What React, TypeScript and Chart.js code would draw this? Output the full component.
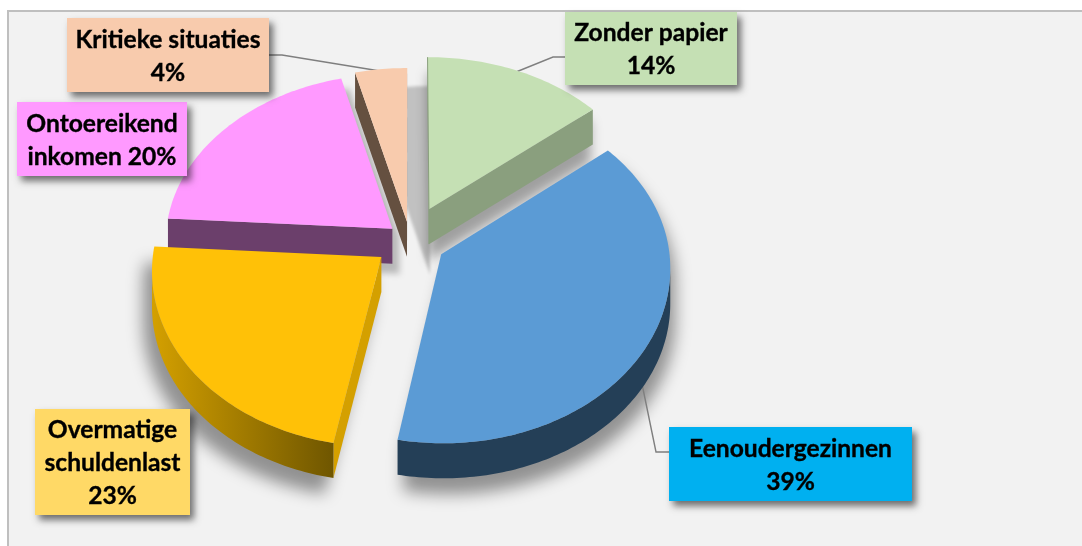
import React, { useEffect, useRef } from "react";
import { Chart, registerables } from "chart.js";

Chart.register(...registerables);

const categories = ["Zonder papier", "Eenoudergezinnen", "Overmatige schuldenlast", "Ontoereikend inkomen", "Kritieke situaties"];
const values = [14, 39, 23, 20, 4];
const topColors = ["#C5E0B4", "#5B9BD5", "#FFC107", "#FF99FF", "#F8CBAD"];
const rimColors = ["#8A9F7E", "#243F57", "#D4A000", "#6B3F6B", "#655040"];
const rimEndColors = ["#8A9F7E", "#243F57", "#6F5600", "#6B3F6B", "#655040"];
const labelColors = ["#C5E0B4", "#00B0F0", "#FFD966", "#FF99FF", "#F8CBAD"];
const labelLines = [
  ["Zonder papier", "14%"],
  ["Eenoudergezinnen", "39%"],
  ["Overmatige", "schuldenlast", "23%"],
  ["Ontoereikend", "inkomen 20%"],
  ["Kritieke situaties", "4%"],
];
const explode = [45, 36, 36, 23, 24];
const paintOrder = [4, 3, 0, 2, 1];

const boxes = [
  { x: 565, y: 12, w: 172, h: 73 },
  { x: 669, y: 427, w: 243, h: 74 },
  { x: 35, y: 409, w: 155, h: 106 },
  { x: 17, y: 102, w: 170, h: 74 },
  { x: 67, y: 18, w: 202, h: 74 },
];
const leaders = [
  [[565, 57], [553, 57], [516, 72]],
  [[669, 452], [656, 452], [642, 384]],
  [],
  [],
  [[269, 55], [282, 55], [380, 71]],
];
const shadows = [
  { dx: 0, dy: 16, blur: 6, alpha: 0.34 },
  { dx: 5, dy: 16, blur: 8, alpha: 0.4 },
  { dx: -9, dy: 16, blur: 8, alpha: 0.4 },
  { dx: 8, dy: 10, blur: 3, alpha: 0.24 },
  { dx: 23, dy: 18, blur: 1.5, alpha: 0.2 },
];

const CX = 410, CY = 240, R = 227, Q = 0.768, K = 0.073, DEPTH = 35, FAR_SQUASH = 0.965;

function project(u: number, v: number) {
  const s = 1 + K * v;
  return { x: CX + R * u * s, y: CY + R * Q * v * s };
}

function slicePolygon(arc: any) {
  const { startAngle, endAngle } = arc.getProps(["startAngle", "endAngle"], true);
  const mid = (startAngle + endAngle) / 2;
  const d = arc.options.offset / R;
  const ou = Math.cos(mid) * d, ov = Math.sin(mid) * d;
  const pts = [project(ou, ov)];
  const n = Math.max(2, Math.ceil((endAngle - startAngle) / (Math.PI / 180)));
  for (let i = 0; i <= n; i++) {
    const a = startAngle + ((endAngle - startAngle) * i) / n;
    const sv = Math.sin(a);
    pts.push(project(Math.cos(a) + ou, (sv < 0 ? sv * FAR_SQUASH : sv) + ov));
  }
  return pts;
}

function addPoly(ctx: CanvasRenderingContext2D, pts: { x: number; y: number }[], dx = 0, dy = 0) {
  pts.forEach((p, i) => (i ? ctx.lineTo(p.x + dx, p.y + dy) : ctx.moveTo(p.x + dx, p.y + dy)));
  ctx.closePath();
}

const pie3d = {
  id: "pie3d",
  beforeDraw(chart: any) {
    const ctx = chart.ctx as CanvasRenderingContext2D;
    ctx.save();
    ctx.fillStyle = "#ffffff";
    ctx.fillRect(0, 0, chart.width, chart.height);
    ctx.fillStyle = "#F2F2F2";
    ctx.fillRect(8, 11, chart.width - 8, chart.height - 11);
    ctx.strokeStyle = "#BFBFBF";
    ctx.lineWidth = 2;
    ctx.beginPath();
    ctx.moveTo(8, chart.height);
    ctx.lineTo(8, 11);
    ctx.lineTo(chart.width, 11);
    ctx.stroke();
    ctx.restore();
  },
  beforeDatasetsDraw(chart: any) {
    const ctx = chart.ctx as CanvasRenderingContext2D;
    const arcs = chart.getDatasetMeta(0).data;
    const polys = arcs.map(slicePolygon);

    paintOrder.forEach((i) => {
      const sh = shadows[i];
      ctx.save();
      ctx.filter = `blur(${sh.blur}px)`;
      ctx.fillStyle = `rgba(0,0,0,${sh.alpha})`;
      ctx.beginPath();
      for (let dy = 0; dy <= DEPTH; dy += 7) addPoly(ctx, polys[i], sh.dx, dy + sh.dy);
      ctx.fill();
      ctx.restore();
    });

    ctx.save();
    ctx.strokeStyle = "#7F7F7F";
    ctx.lineWidth = 1.4;
    leaders.forEach((pts) => {
      if (!pts.length) return;
      ctx.beginPath();
      pts.forEach((p, i) => (i ? ctx.lineTo(p[0], p[1]) : ctx.moveTo(p[0], p[1])));
      ctx.stroke();
    });
    ctx.restore();

    paintOrder.forEach((i) => {
      const pts = polys[i];
      const last = pts.length - 1;
      const face = (a: any[], fill: any) => {
        ctx.beginPath();
        a.forEach((p, j) => (j ? ctx.lineTo(p.x, p.y) : ctx.moveTo(p.x, p.y)));
        for (let j = a.length - 1; j >= 0; j--) ctx.lineTo(a[j].x, a[j].y + DEPTH);
        ctx.closePath();
        ctx.fillStyle = fill;
        ctx.fill();
      };
      if (pts[1].x < pts[0].x) face([pts[0], pts[1]], rimColors[i]);
      if (pts[0].x < pts[last].x) face([pts[last], pts[0]], rimColors[i]);
      const rimXs = pts.slice(1).map((p: any) => p.x);
      const grad = ctx.createLinearGradient(Math.min(...rimXs), 0, Math.max(...rimXs), 0);
      grad.addColorStop(0, rimColors[i]);
      grad.addColorStop(1, rimEndColors[i]);
      let run: any[] = [];
      for (let j = 1; j < last; j++) {
        if (pts[j + 1].x < pts[j].x) {
          if (!run.length) run.push(pts[j]);
          run.push(pts[j + 1]);
        } else if (run.length) {
          face(run, grad);
          run = [];
        }
      }
      if (run.length) face(run, grad);
      ctx.beginPath();
      addPoly(ctx, pts);
      ctx.fillStyle = arcs[i].options.backgroundColor;
      ctx.fill();
      if (Math.abs(pts[1].x - pts[0].x) < 4) {
        ctx.beginPath();
        ctx.moveTo(pts[1].x, pts[1].y);
        ctx.lineTo(pts[0].x, pts[0].y);
        ctx.lineTo(pts[0].x, pts[0].y + DEPTH);
        ctx.strokeStyle = rimColors[i];
        ctx.lineWidth = 1;
        ctx.stroke();
      }
    });
    return false;
  },
  afterDraw(chart: any) {
    const ctx = chart.ctx as CanvasRenderingContext2D;
    boxes.forEach((b, i) => {
      ctx.save();
      ctx.shadowColor = "rgba(0,0,0,0.55)";
      ctx.shadowBlur = 7;
      ctx.shadowOffsetX = 4;
      ctx.shadowOffsetY = 5;
      ctx.fillStyle = labelColors[i];
      ctx.fillRect(b.x, b.y, b.w, b.h);
      ctx.restore();
      ctx.save();
      ctx.fillStyle = "#000000";
      ctx.strokeStyle = "#000000";
      ctx.lineWidth = 0.35;
      ctx.font = "bold 24.6px Lato";
      ctx.textAlign = "center";
      ctx.textBaseline = "alphabetic";
      const lines = labelLines[i];
      const lh = 33;
      const firstBase = b.y + b.h / 2 - ((lines.length - 1) * lh) / 2 + 9;
      lines.forEach((t, j) => {
        ctx.fillText(t, b.x + b.w / 2, firstBase + j * lh);
        ctx.strokeText(t, b.x + b.w / 2, firstBase + j * lh);
      });
      ctx.restore();
    });
  },
};

export default function App() {
  const ref = useRef<HTMLCanvasElement | null>(null);
  useEffect(() => {
    const chart = new Chart(ref.current as HTMLCanvasElement, {
      type: "pie",
      data: {
        labels: categories,
        datasets: [{ data: values, backgroundColor: topColors, offset: explode, borderWidth: 0 }],
      },
      options: {
        responsive: false,
        animation: false,
        plugins: { legend: { display: false }, tooltip: { enabled: false } },
      },
      plugins: [pie3d],
    } as any);
    return () => chart.destroy();
  }, []);
  return (
    <div style={{ position: "absolute", left: 0, top: 0, width: 1082, height: 546 }}>
      <canvas ref={ref} width={1082} height={546} style={{ display: "block" }} />
    </div>
  );
}
